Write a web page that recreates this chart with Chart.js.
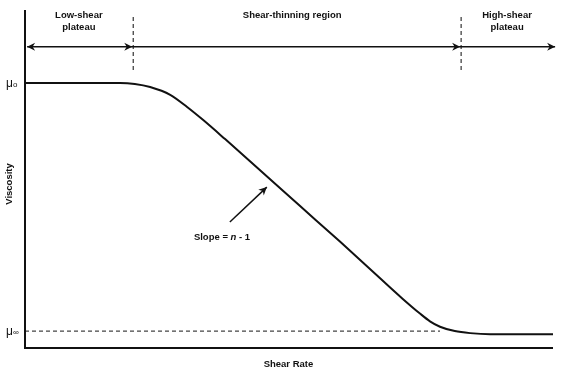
<!DOCTYPE html>
<html>
<head>
<meta charset="utf-8">
<script src="https://cdn.jsdelivr.net/npm/chart.js@4/dist/chart.umd.min.js"></script>
<style>
  body { margin: 0; background: #fff; }
  #wrap { width: 567px; height: 376px; }
</style>
</head>
<body>
<div id="wrap"><canvas id="myChart"></canvas></div>
<script>
// viscosity curve (arbitrary units, 0-100 on both axes)
var shearRate = [0, 18.0, 20.8, 23.7, 27.5, 30.7, 33.7, 37.9, 45.1, 52.1, 59.7, 67.2, 71.5, 74.8, 76.7, 78.6, 81.4, 84.3, 88.1, 100];
var viscosity = [78.4, 78.4, 78.1, 77.2, 74.9, 71.3, 67.5, 61.8, 51.8, 42.0, 31.4, 20.7, 14.6, 10.2, 7.9, 6.3, 5.0, 4.4, 4.1, 4.1];

var muZero = 78.4;
var muInf = 5.0;
var muInfLineEnd = 78.6;

// region boundaries and the arrow row above the curve
var regionBounds = [20.5, 82.6];
var boundTop = 97.9;
var boundBottom = 82.2;
var arrowRow = 89.1;
var arrowStops = [0.4, 20.5, 82.6, 100.4];
var regionLabels = [['Low-shear', 'plateau'], ['Shear-thinning region'], ['High-shear', 'plateau']];
var regionCenters = [10.2, 50.6, 91.3];

// slope pointer
var slopeFrom = [38.8, 37.3];
var slopeTo = [45.8, 47.6];

var curve = shearRate.map((x, i) => ({ x: x, y: viscosity[i] }));

var font = 'Liberation Sans, Arial, sans-serif';

function arrowHead(ctx, x, y, dir) {
    ctx.save();
    ctx.translate(x, y);
    ctx.rotate(dir);
    ctx.beginPath();
    ctx.moveTo(0, 0);
    ctx.lineTo(-8, -4);
    ctx.lineTo(-5.5, 0);
    ctx.lineTo(-8, 4);
    ctx.closePath();
    ctx.fill();
    ctx.restore();
}

var decorations = {
    id: 'decorations',
    afterDraw: function (chart) {
        var ctx = chart.ctx;
        var xs = chart.scales.x, ys = chart.scales.y;
        var area = chart.chartArea;
        ctx.save();
        ctx.fillStyle = '#111';
        ctx.strokeStyle = '#111';

        // axes
        ctx.lineWidth = 2;
        ctx.beginPath();
        ctx.moveTo(area.left, area.top);
        ctx.lineTo(area.left, area.bottom);
        ctx.lineTo(area.right, area.bottom);
        ctx.stroke();

        // arrow row
        var ay = ys.getPixelForValue(arrowRow);
        ctx.lineWidth = 1.5;
        ctx.beginPath();
        ctx.moveTo(xs.getPixelForValue(arrowStops[0]), ay);
        ctx.lineTo(xs.getPixelForValue(arrowStops[3]), ay);
        ctx.stroke();
        arrowHead(ctx, xs.getPixelForValue(arrowStops[0]), ay, Math.PI);
        arrowHead(ctx, xs.getPixelForValue(arrowStops[1]) - 1, ay, 0);
        arrowHead(ctx, xs.getPixelForValue(arrowStops[2]) - 1, ay, 0);
        arrowHead(ctx, xs.getPixelForValue(arrowStops[3]), ay, 0);

        // region labels
        ctx.font = 'bold 9.5px ' + font;
        ctx.textAlign = 'center';
        ctx.textBaseline = 'middle';
        regionLabels.forEach((lines, i) => {
            var cx = xs.getPixelForValue(regionCenters[i]);
            lines.forEach((t, j) => ctx.fillText(t, cx, 15 + j * 12));
        });

        // mu labels
        [[muZero, 'o'], [muInf, '\u221e']].forEach(m => {
            var py = ys.getPixelForValue(m[0]);
            ctx.font = '12px ' + font;
            ctx.textAlign = 'left';
            ctx.fillText('\u03bc', 6, py + 1);
            ctx.font = '8px ' + font;
            ctx.fillText(m[1], 13, py + 2);
        });

        // axis titles
        ctx.font = 'bold 9.5px ' + font;
        ctx.textAlign = 'center';
        ctx.fillText('Shear Rate', xs.getPixelForValue(49.9), 364);
        ctx.save();
        ctx.translate(9, 184);
        ctx.rotate(-Math.PI / 2);
        ctx.fillText('Viscosity', 0, 0);
        ctx.restore();

        // slope pointer
        var x1 = xs.getPixelForValue(slopeFrom[0]), y1 = ys.getPixelForValue(slopeFrom[1]);
        var x2 = xs.getPixelForValue(slopeTo[0]), y2 = ys.getPixelForValue(slopeTo[1]);
        ctx.lineWidth = 1.5;
        ctx.beginPath();
        ctx.moveTo(x1, y1);
        ctx.lineTo(x2, y2);
        ctx.stroke();
        arrowHead(ctx, x2, y2, Math.atan2(y2 - y1, x2 - x1));

        // slope text, with n in italics
        var parts = [['Slope = ', 'bold 9.5px '], ['n', 'bold italic 9.5px '], [' - 1', 'bold 9.5px ']];
        var total = 0;
        parts.forEach(p => { ctx.font = p[1] + font; total += ctx.measureText(p[0]).width; });
        var tx = 222 - total / 2;
        ctx.textAlign = 'left';
        parts.forEach(p => {
            ctx.font = p[1] + font;
            ctx.fillText(p[0], tx, 237);
            tx += ctx.measureText(p[0]).width;
        });
        ctx.restore();
    }
};

var ctx = document.getElementById('myChart').getContext('2d');
var viscosityChart = new Chart(ctx, {
    type: 'line',
    data: {
        datasets: [
            {
                data: curve,
                borderColor: '#111',
                borderWidth: 2,
                pointRadius: 0,
                cubicInterpolationMode: 'monotone'
            },
            {
                data: [{ x: 0, y: muInf }, { x: muInfLineEnd, y: muInf }],
                borderColor: '#444',
                borderWidth: 1.2,
                borderDash: [4, 3],
                pointRadius: 0
            },
            {
                data: [{ x: regionBounds[0], y: boundTop }, { x: regionBounds[0], y: boundBottom }],
                borderColor: '#333',
                borderWidth: 1.2,
                borderDash: [4, 3],
                pointRadius: 0
            },
            {
                data: [{ x: regionBounds[1], y: boundTop }, { x: regionBounds[1], y: boundBottom }],
                borderColor: '#333',
                borderWidth: 1.2,
                borderDash: [4, 3],
                pointRadius: 0
            }
        ]
    },
    options: {
        responsive: true,
        maintainAspectRatio: false,
        animation: false,
        layout: { padding: { left: 25, right: 14, top: 10, bottom: 28 } },
        plugins: {
            legend: { display: false },
            tooltip: { enabled: false }
        },
        scales: {
            x: { type: 'linear', min: 0, max: 100, display: false },
            y: { type: 'linear', min: 0, max: 100, display: false }
        }
    },
    plugins: [decorations]
});
</script>
</body>
</html>
